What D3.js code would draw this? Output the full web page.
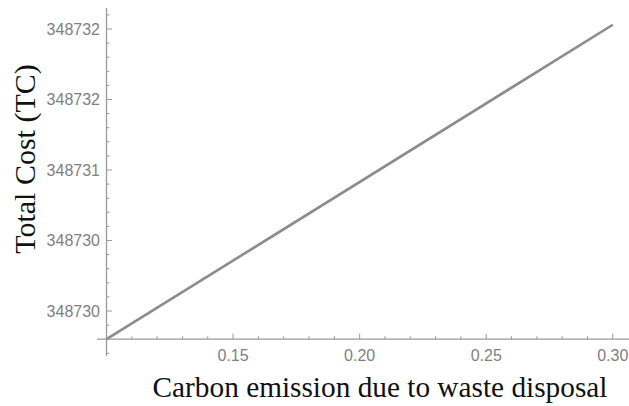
<!DOCTYPE html>
<html>
<head>
<meta charset="utf-8">
<script src="https://cdn.jsdelivr.net/npm/d3@7"></script>
<style>
  body { margin: 0; background: #fff; }
  svg { display: block; }
</style>
</head>
<body>
<svg id="chart" width="629" height="406"></svg>
<script>
// Total cost as a function of the carbon emission factor for waste disposal
const emission = [0.10, 0.30];
const totalCost = [348729.80, 348732.03];

const xTicks = [0.15, 0.20, 0.25, 0.30];
const yTicks = [348730, 348730.5, 348731, 348731.5, 348732];
const yTickLabels = ["348730", "348730", "348731", "348732", "348732"];

const svg = d3.select("#chart");
const W = 629, H = 406;

const x = d3.scaleLinear().domain([0.10, 0.30]).range([106.5, 612.8]);
const y = d3.scaleLinear().domain([348730, 348732]).range([311, 29]);

const axisColor = "#9a9a9a";
const labelColor = "#808080";

// x axis (horizontal line through the lower end of the curve)
const x0 = x(0.10), y0 = y(348729.8);
svg.append("line")
  .attr("x1", 97).attr("x2", W).attr("y1", y0).attr("y2", y0)
  .attr("stroke", axisColor).attr("stroke-width", 1.3);

const xMinor = d3.range(0.11, 0.3001, 0.01).filter(v => !xTicks.some(t => Math.abs(t - v) < 1e-9));
svg.append("g").selectAll("line").data(xMinor).join("line")
  .attr("x1", d => x(d)).attr("x2", d => x(d))
  .attr("y1", y0).attr("y2", y0 - 3)
  .attr("stroke", axisColor).attr("stroke-width", 1);
svg.append("g").selectAll("line").data(xTicks).join("line")
  .attr("x1", d => x(d)).attr("x2", d => x(d))
  .attr("y1", y0).attr("y2", y0 - 5.5)
  .attr("stroke", axisColor).attr("stroke-width", 1);
svg.append("g").selectAll("text").data(xTicks).join("text")
  .attr("x", d => x(d)).attr("y", 361)
  .attr("text-anchor", "middle")
  .attr("font-family", "Liberation Sans, Arial, sans-serif")
  .attr("font-size", 16)
  .attr("fill", labelColor)
  .text(d => d.toFixed(2));

// y axis
svg.append("line")
  .attr("x1", x0).attr("x2", x0).attr("y1", 8).attr("y2", 356)
  .attr("stroke", axisColor).attr("stroke-width", 1.3);

const yMinor = d3.range(348729.7, 348732.15, 0.1)
  .filter(v => !yTicks.some(t => Math.abs(t - v) < 1e-6) && Math.abs(v - 348729.8) > 1e-6);
svg.append("g").selectAll("line").data(yMinor).join("line")
  .attr("x1", x0).attr("x2", x0 + 3)
  .attr("y1", d => y(d)).attr("y2", d => y(d))
  .attr("stroke", axisColor).attr("stroke-width", 1);
svg.append("g").selectAll("line").data(yTicks).join("line")
  .attr("x1", x0).attr("x2", x0 + 5.5)
  .attr("y1", d => y(d)).attr("y2", d => y(d))
  .attr("stroke", axisColor).attr("stroke-width", 1);
svg.append("g").selectAll("text").data(yTicks).join("text")
  .attr("x", 100).attr("y", d => y(d) + 5.5)
  .attr("text-anchor", "end")
  .attr("font-family", "Liberation Sans, Arial, sans-serif")
  .attr("font-size", 16)
  .attr("fill", labelColor)
  .text((d, i) => yTickLabels[i]);

// the cost curve
svg.append("path")
  .datum(emission.map((e, i) => [e, totalCost[i]]))
  .attr("fill", "none")
  .attr("stroke", "#8c8c8c")
  .attr("stroke-width", 2.6)
  .attr("d", d3.line().x(d => x(d[0])).y(d => y(d[1])));

// axis titles
svg.append("text")
  .attr("x", 380).attr("y", 397)
  .attr("text-anchor", "middle")
  .attr("font-family", "Liberation Serif, Times New Roman, serif")
  .attr("font-size", 29.3)
  .attr("fill", "#111")
  .text("Carbon emission due to waste disposal");

svg.append("text")
  .attr("transform", "translate(35,159) rotate(-90)")
  .attr("text-anchor", "middle")
  .attr("font-family", "Liberation Serif, Times New Roman, serif")
  .attr("font-size", 30)
  .attr("fill", "#111")
  .text("Total Cost (TC)");
</script>
</body>
</html>
